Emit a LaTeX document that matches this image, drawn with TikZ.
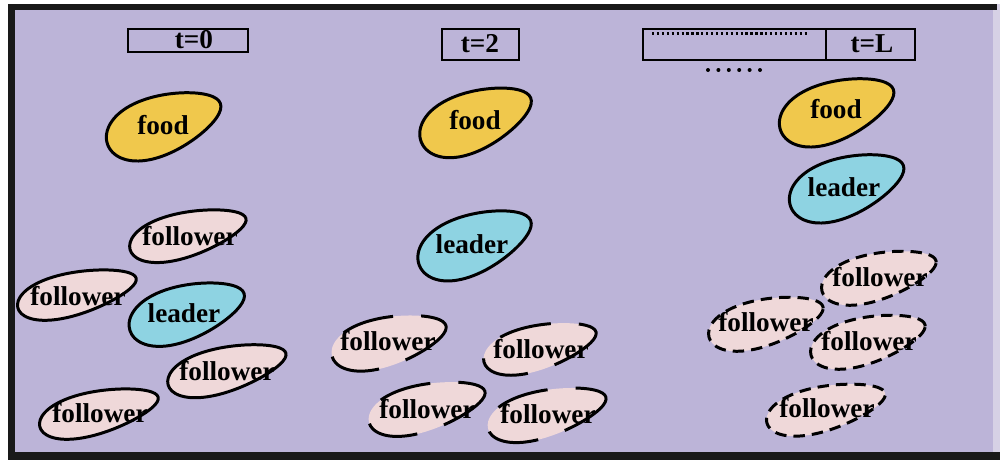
\documentclass[tikz,border=0pt]{standalone}
\usepackage{fontspec}
\setmainfont{Liberation Serif}
\definecolor{bgc}{HTML}{BCB4D8}
\definecolor{edgec}{HTML}{D6D1E5}
\definecolor{foodc}{HTML}{F0C84C}
\definecolor{leadc}{HTML}{8ED3E2}
\definecolor{follc}{HTML}{EFD8D9}
\tikzset{
  outl/.style={draw=black, line width=1.7pt},
  foodblob/.style={outl, fill=foodc},
  leadblob/.style={outl, fill=leadc},
  follblob/.style={outl, fill=follc},
  brokenblob/.style={follblob, dash pattern=on 30pt off 16pt},
  dashblob/.style={follblob, dash pattern=on 6.5pt off 4pt},
  lbl/.style={font=\fontsize{15.5}{18}\selectfont\bfseries, inner sep=0pt},
  tbox/.style={draw=black, line width=1.6pt},
}
% #1 cx, #2 cy, #3 semi-axis a, #4 semi-axis b, #5 rotation, #6 style
\newcommand{\myblob}[6]{%
  \path[#6, shift={(#1,#2)}, rotate=#5]
    plot[domain=0:352.5, samples=48, smooth cycle, variable=\t]
      ({#3*cos(\t)}, {#4*sin(\t)*(1-0.22*cos(\t))});}
\begin{document}
\begin{tikzpicture}[x=0.02cm, y=-0.02cm]
\useasboundingbox (0,0) rectangle (1000,460);
% frame
\fill[edgec] (8,4) rectangle (1000,456);
\fill[bgc] (8,4) rectangle (993,456);
\fill[black!90] (8,4) rectangle (997,10);
\fill[black!90] (8,4) rectangle (15,460);
\fill[black!90] (8,452) rectangle (1000,460);

% time boxes
\draw[tbox] (128,29) rectangle (248,52);
\node[lbl] (t0) at (194,40) {t=0};
\draw[tbox] (442,29) rectangle (519,60);
\node[lbl] (t2) at (480,44) {t=2};
\draw[tbox] (643,29) rectangle (826,60);
\draw[tbox] (826,29) rectangle (915,60);
\node[lbl] (tL) at (872,44) {t=L};
\draw[line width=2pt, dash pattern=on 1.3pt off 1.5pt] (652,33.5) -- (808,33.5);
\foreach \i in {0,...,5} \fill (708+10.4*\i,70) circle (2);

% t = 0
\myblob{164}{124}{60}{29}{20}{foodblob}
\node[lbl] (food0) at (163,125) {food};
\myblob{188}{234}{60}{22}{15}{follblob}
\node[lbl] (f0a) at (190,236) {follower};
\myblob{77}{293}{61}{21}{14}{follblob}
\node[lbl] (f0b) at (78,296) {follower};
\myblob{187}{312}{60}{27}{18}{leadblob}
\node[lbl] (lead0) at (184,313) {leader};
\myblob{227}{369}{61}{22}{15}{follblob}
\node[lbl] (f0c) at (227,371) {follower};
\myblob{99}{412}{61}{21}{14}{follblob}
\node[lbl] (f0d) at (100,413) {follower};

% t = 2
\myblob{476}{120}{59}{29}{22}{foodblob}
\node[lbl] (food2) at (475,120) {food};
\myblob{475}{243}{60}{29}{22}{leadblob}
\node[lbl] (lead2) at (472,244) {leader};
\myblob{389}{341}{59}{24}{15}{brokenblob}
\node[lbl] (f2a) at (388,341) {follower};
\myblob{540}{347}{58}{22}{15}{brokenblob}
\node[lbl] (f2b) at (541,349) {follower};
\myblob{427}{407}{60}{23}{15}{brokenblob}
\node[lbl] (f2c) at (427,409) {follower};
\myblob{547}{413}{61}{23}{15}{brokenblob}
\node[lbl] (f2d) at (548,414) {follower};

% t = L
\myblob{837}{110}{60}{29}{20}{foodblob}
\node[lbl] (foodL) at (836,109) {food};
\myblob{847}{186}{60}{29}{20}{leadblob}
\node[lbl] (leadL) at (844,187) {leader};
\myblob{879}{276}{59}{23}{15}{dashblob}
\node[lbl] (fLa) at (880,277) {follower};
\myblob{766}{322}{59}{23}{15}{dashblob}
\node[lbl] (fLb) at (766,322) {follower};
\myblob{868}{340}{59}{23}{15}{dashblob}
\node[lbl] (fLc) at (869,341) {follower};
\myblob{826}{408}{61}{22}{14}{dashblob}
\node[lbl] (fLd) at (827,408) {follower};
\end{tikzpicture}
\end{document}
